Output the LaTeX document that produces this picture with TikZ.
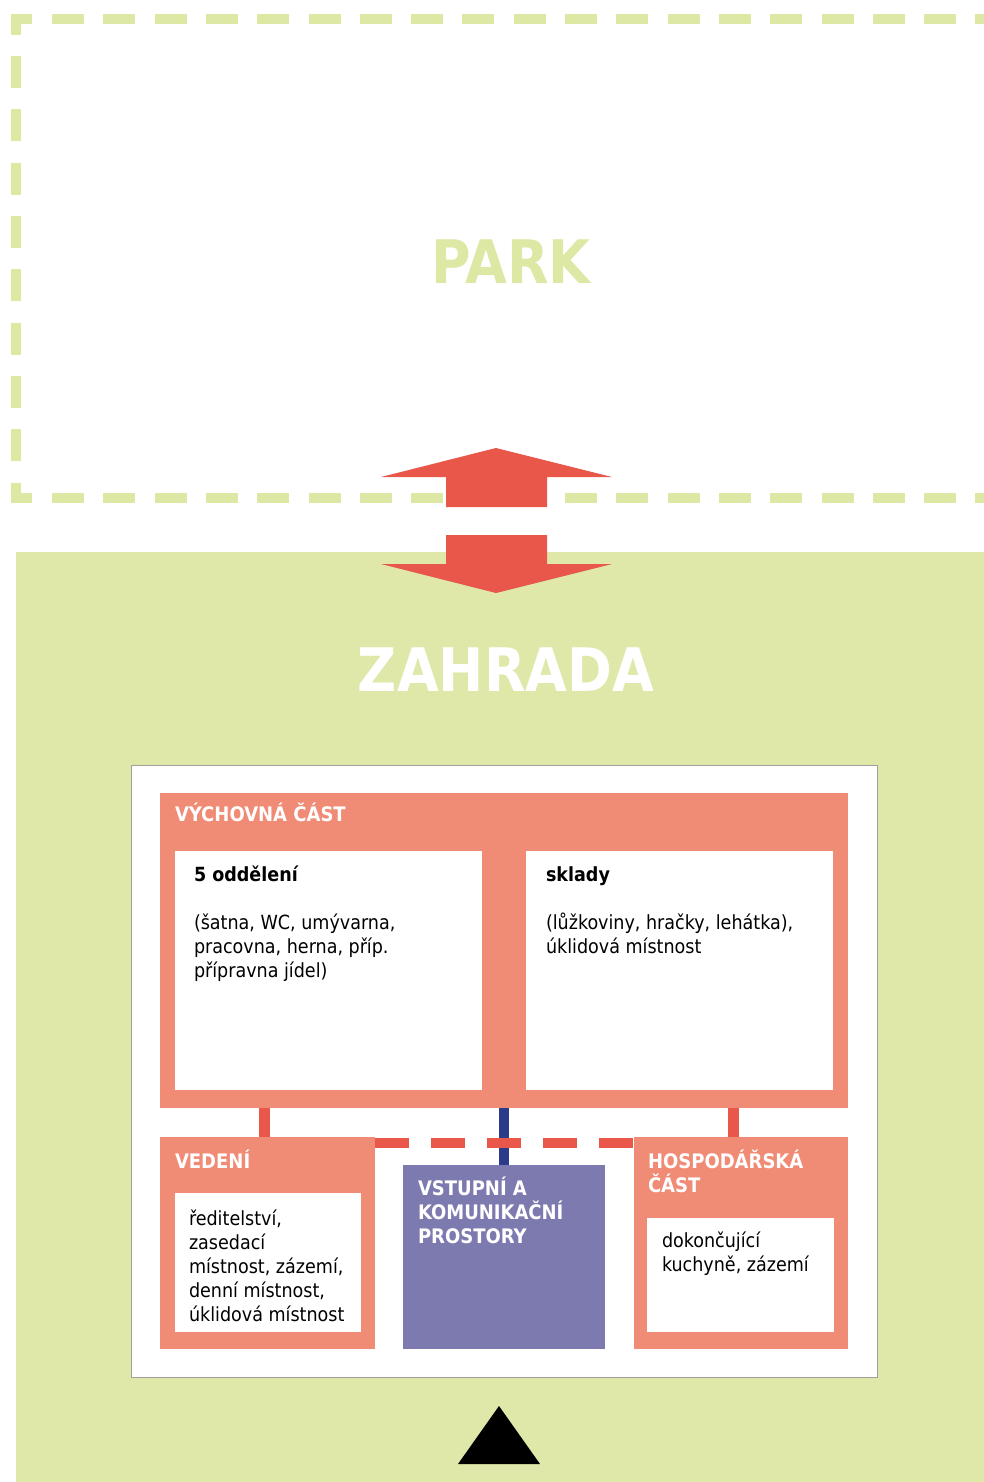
\documentclass[tikz,border=0pt]{standalone}
\usepackage{fontspec}
\newfontfamily\cond{DejaVu Sans Condensed}
\newcommand\bodyfont{\cond\fontsize{19.5}{24}\selectfont}
\newcommand\hdrfont{\cond\bfseries\fontsize{20}{24}\selectfont}
\newcommand\titlefont{\cond\bfseries\fontsize{60}{70}\selectfont}
\newcommand\fl{\rule{0pt}{20pt}}
\definecolor{garden}{RGB}{223,232,168}
\definecolor{parkgreen}{RGB}{221,232,164}
\definecolor{salmon}{RGB}{240,139,118}
\definecolor{arrowred}{RGB}{232,87,74}
\definecolor{entry}{RGB}{125,122,176}
\definecolor{linkblue}{RGB}{44,58,140}
\definecolor{framegray}{RGB}{160,160,160}
\begin{document}
\begin{tikzpicture}[x=1pt,y=-1pt,
  every node/.style={inner sep=0pt, outer sep=0pt},
  box/.style={rectangle, draw=none, anchor=north west},
  salmonbox/.style={box, fill=salmon},
  whitebox/.style={box, fill=white},
  hdr/.style={anchor=north west, text=white, font=\hdrfont, align=left},
  body/.style={anchor=north west, text=black, font=\bodyfont, align=left},
  redlink/.style={draw=arrowred, line width=10.5pt},
  bluelink/.style={draw=linkblue, line width=10pt},
  parkdash/.style={fill=parkgreen},
  bigarrow/.style={fill=arrowred}]
\useasboundingbox (0,0) rectangle (984,1482);
\fill[white] (0,0) rectangle (984,1482);

% garden area
\node[box, fill=garden, minimum width=968, minimum height=930] (zahrada) at (16,552) {};

% park dashed border
\fill[parkdash] (11,14) rectangle (32,24);
\fill[parkdash] (11,14) rectangle (21,35);
\fill[parkdash] (11,493) rectangle (32,503);
\fill[parkdash] (11,483) rectangle (21,503);
\foreach \i in {0,...,18} {
  \pgfmathsetmacro\xa{52+51.3*\i}
  \pgfmathsetmacro\xb{min(\xa+32,984)}
  \fill[parkdash] (\xa,14) rectangle (\xb,24);
  \fill[parkdash] (\xa,493) rectangle (\xb,503);
}
\foreach \i in {0,...,7} {
  \pgfmathsetmacro\ya{56+53.3*\i}
  \fill[parkdash] (11,\ya) rectangle (21,\ya+32);
}

% titles
\node[font=\titlefont, text=parkgreen] (park) at (511,262) {PARK};
\node[font=\titlefont, text=white] (zahradatitle) at (506,670) {ZAHRADA};

% arrows between park and garden
\fill[bigarrow] (496,448) -- (612,477) -- (547,477) -- (547,507) -- (446,507) -- (446,477) -- (381,477) -- cycle;
\fill[bigarrow] (446,535) -- (547,535) -- (547,564) -- (612,564) -- (496,593) -- (381,564) -- (446,564) -- cycle;

% building plan
\node[box, fill=white, draw=framegray, line width=1pt, minimum width=746, minimum height=612] (plan) at (131,765) {};

\node[salmonbox, minimum width=688, minimum height=315] (vych) at (160,793) {};
\node[whitebox, minimum width=307, minimum height=239] (odd) at (175,851) {};
\node[whitebox, minimum width=307, minimum height=239] (skl) at (526,851) {};

\node[salmonbox, minimum width=215, minimum height=212] (ved) at (160,1137) {};
\node[whitebox, minimum width=186, minimum height=139] (vedin) at (175,1193) {};

\node[box, fill=entry, minimum width=202, minimum height=184] (vst) at (403,1165) {};

\node[salmonbox, minimum width=214, minimum height=212] (hosp) at (634,1137) {};
\node[whitebox, minimum width=187, minimum height=114] (hospin) at (647,1218) {};

% connectors
\draw[redlink] ([xshift=-3pt]ved.north) -- ([xshift=-3pt]ved.north |- vych.south);
\draw[redlink] ([xshift=-7.5pt]hosp.north) -- ([xshift=-7.5pt]hosp.north |- vych.south);
\draw[bluelink] (vst.north) -- (vst.north |- vych.south);
\draw[redlink, dash pattern=on 34pt off 22pt] ([yshift=-6pt]ved.north east) -- ([yshift=-6pt]hosp.north west);

% texts
\node[hdr] (vychlabel) at (175,801) {\fl VÝCHOVNÁ ČÁST};
\node[body] (oddtext) at (194,861) {\fl\textbf{5 oddělení}\\[24pt](šatna, WC, umývarna,\\pracovna, herna, příp.\\přípravna jídel)};
\node[body] (skltext) at (546,861) {\fl\textbf{sklady}\\[24pt](lůžkoviny, hračky, lehátka),\\úklidová místnost};
\node[hdr] (vedlabel) at (175,1148) {\fl VEDENÍ};
\node[body] (vedtext) at (189,1205) {\fl ředitelství,\\zasedací\\místnost, zázemí,\\denní místnost,\\úklidová místnost};
\node[hdr] (vstlabel) at (418,1175) {\fl VSTUPNÍ A\\KOMUNIKAČNÍ\\PROSTORY};
\node[hdr] (hosplabel) at (648,1148) {\fl HOSPODÁŘSKÁ\\ČÁST};
\node[body] (hosptext) at (662,1227) {\fl dokončující\\kuchyně, zázemí};

% entrance marker
\fill[black] (499,1406) -- (540,1464) -- (458,1464) -- cycle;
\end{tikzpicture}
\end{document}
